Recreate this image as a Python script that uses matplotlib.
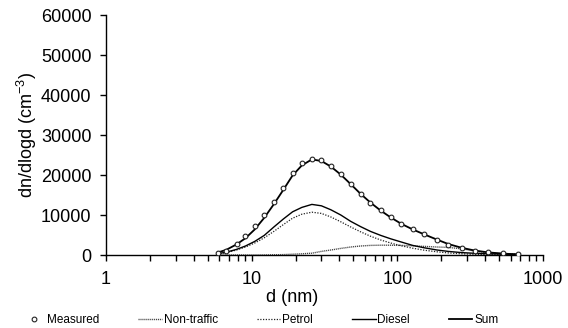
import matplotlib
matplotlib.use("Agg")
import matplotlib.pyplot as plt
from matplotlib.ticker import FixedLocator, LogLocator, NullFormatter, FuncFormatter

plt.rcParams['font.family'] = ['Liberation Sans', 'DejaVu Sans']
plt.rcParams['mathtext.fontset'] = 'custom'
plt.rcParams['mathtext.rm'] = 'Liberation Sans'
plt.rcParams['mathtext.it'] = 'Liberation Sans:italic'

# particle diameter (nm)
diameter = [5.83, 6.70, 7.87, 9.07, 10.5, 12.2, 14.2, 16.5, 19.1, 22.1, 25.9, 30.1,
            35.0, 40.9, 47.9, 55.9, 65.4, 76.9, 90.0, 106.4, 127.4, 153.1, 187.1,
            223.6, 276.5, 341.5, 421.1, 528.6, 676.6]

measured = [625, 1075, 2700, 4825, 7325, 10075, 13250, 16800, 20450, 23000, 23925, 23750,
            22325, 20200, 17700, 15325, 13075, 11175, 9425, 7825, 6500, 5175, 3800,
            2500, 1675, 1075, 675, 425, 325]

non_traffic = [0, 0, 0, 0, 0, 20, 50, 100, 200, 300, 450, 900,
               1250, 1650, 2000, 2250, 2400, 2450, 2450, 2400, 2300, 2150, 2000,
               1900, 1550, 1000, 600, 350, 150]

petrol = [280, 600, 1250, 2000, 3000, 4300, 5900, 7600, 9200, 10200, 10700, 10400,
          9500, 8300, 7000, 5800, 4700, 3750, 3000, 2300, 1700, 1200, 800,
          520, 300, 170, 90, 40, 20]

diesel = [320, 700, 1400, 2250, 3400, 4900, 7000, 9000, 10800, 11900, 12650, 12300,
          11300, 10000, 8400, 7100, 5900, 4900, 4050, 3250, 2400, 1800, 1250,
          900, 600, 420, 300, 220, 150]

sum_model = [600, 1300, 2650, 4200, 6400, 9300, 12700, 16300, 19900, 22400, 23900, 23500,
             22100, 20100, 17700, 15300, 13100, 11100, 9400, 7800, 6400, 5150, 3850,
             2750, 1800, 1100, 650, 350, 150]

y_ticks = [0, 10000, 20000, 30000, 40000, 50000, 60000]
x_ticks = [1, 10, 100, 1000]

fig = plt.figure(figsize=(5.68, 3.28), dpi=100)
ax = fig.add_axes([106/568, 1 - 255/328, (543 - 106)/568, (255 - 15)/328])

ax.plot(diameter, measured, linestyle='none', marker='o', markersize=3.4,
        markerfacecolor='white', markeredgecolor='#222222', markeredgewidth=0.8,
        label='Measured', zorder=5)
ax.plot(diameter, non_traffic, color='#444444', linewidth=1.0,
        dashes=(0.8, 0.6), label='Non-traffic')
ax.plot(diameter, petrol, color='#222222', linewidth=0.9,
        dashes=(1.0, 1.2), label='Petrol')
ax.plot(diameter, diesel, color='black', linewidth=1.0, label='Diesel')
ax.plot(diameter, sum_model, color='black', linewidth=1.3, label='Sum')

ax.set_xscale('log')
ax.set_xlim(1, 1000)
ax.set_ylim(0, 60000)
ax.xaxis.set_major_locator(FixedLocator(x_ticks))
ax.xaxis.set_major_formatter(FuncFormatter(lambda v, p: f"{v:g}"))
ax.xaxis.set_minor_locator(LogLocator(base=10, subs=range(2, 10)))
ax.xaxis.set_minor_formatter(NullFormatter())
ax.yaxis.set_major_locator(FixedLocator(y_ticks))
ax.yaxis.set_major_formatter(FuncFormatter(lambda v, p: f"{int(v)}"))

for s in ['top', 'right']:
    ax.spines[s].set_visible(False)
for s in ['left', 'bottom']:
    ax.spines[s].set_linewidth(1.0)
    ax.spines[s].set_color('black')

ax.tick_params(axis='both', which='major', direction='out', length=4.5, width=1,
               labelsize=13, colors='black')
ax.tick_params(axis='x', which='minor', direction='out', length=4, width=1)
ax.tick_params(axis='x', pad=7)
ax.tick_params(axis='y', pad=6)

ax.set_ylabel('dn/dlogd (cm$^{-3}$)', fontsize=13, labelpad=1)
fig.text(292/568, 1 - 297/328, 'd (nm)', ha='center', va='center', fontsize=13)

leg = fig.legend(loc='center', bbox_to_anchor=(0.458, 1 - 320/328), ncol=5,
                 frameon=False, fontsize=8.5, handlelength=2.0, handletextpad=0.15,
                 columnspacing=3.3, borderaxespad=0, borderpad=0)

fig.savefig('out.png', dpi=100)
